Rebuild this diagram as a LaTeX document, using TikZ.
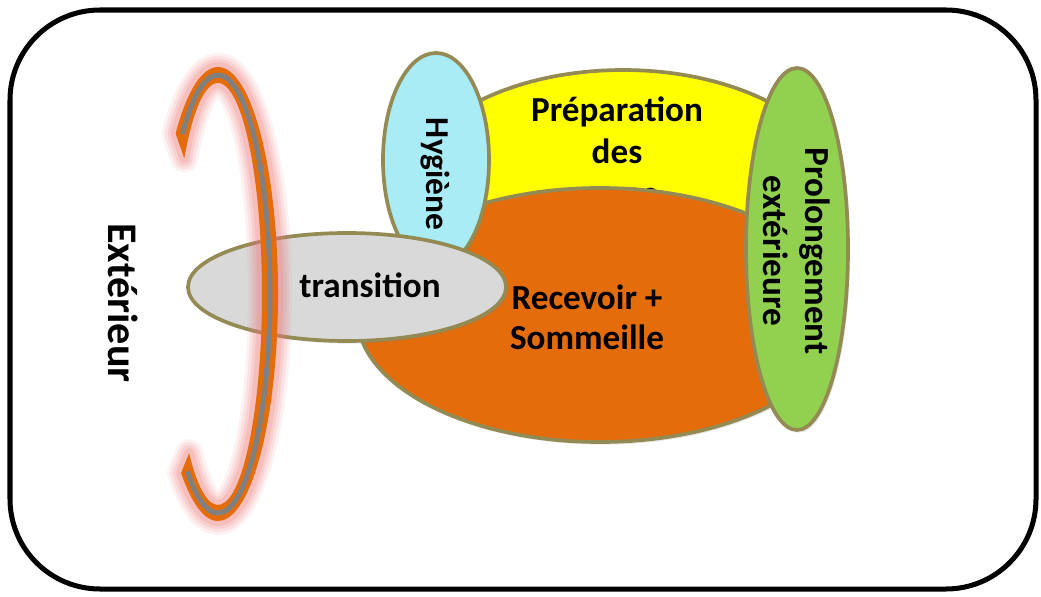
\documentclass[tikz,border=0pt]{standalone}
\usepackage{fontspec}
\setmainfont{Carlito}
\usetikzlibrary{shadows}
\definecolor{edgeol}{HTML}{948A54}
\definecolor{yelf}{HTML}{FFFF00}
\definecolor{cyanf}{HTML}{A9ECF6}
\definecolor{orangef}{HTML}{E46C0A}
\definecolor{greyf}{HTML}{D9D9D9}
\definecolor{greenf}{HTML}{92D050}
\definecolor{stripe}{HTML}{808080}
\definecolor{glowc}{HTML}{F07878}
\newcommand\crescentpath{(184.3,437.6) -- (175.6,462.5) arc[start angle=135, end angle=-128, x radius=60, y radius=227] -- (189.1,142.8) arc[start angle=-131, end angle=140, x radius=44, y radius=211] -- cycle}
\begin{document}
\begin{tikzpicture}[x=0.02cm,y=0.02cm,
  blob/.style={draw=edgeol, line width=2.1pt, drop shadow={shadow xshift=1.2pt, shadow yshift=-1.5pt, opacity=0.18}},
  lbl/.style={font=\fontsize{20}{22.2}\selectfont\bfseries, align=center, text=black, inner sep=0pt}]
\path[use as bounding box] (0,0) rectangle (1041,596);
\fill[white] (0,0) rectangle (1041,596);
\draw[line width=2.85pt, rounded corners=1.8cm] (10,7) rectangle (1036,586);
% yellow
\draw[blob, fill=yelf] (623,396) ellipse [x radius=222, y radius=130];
\node[lbl, font=\fontsize{20}{24}\selectfont\bfseries] (prep) at (617,442) {Préparation\\des\\repas};
% orange
\draw[blob, fill=orangef] (600,281) ellipse [x radius=243, y radius=127];
\node[lbl, font=\fontsize{20}{22.7}\selectfont\bfseries] (recv) at (587,279) {Recevoir +\\Sommeille};
% cyan
\draw[blob, fill=cyanf] (436,436) ellipse [x radius=53, y radius=107];
\node[lbl, font=\fontsize{19}{22}\selectfont\bfseries, rotate=-90] (hyg) at (435,422) {Hygiène};
% grey
\draw[blob, fill=greyf] (347,309) ellipse [x radius=159, y radius=54];
\node[lbl, anchor=base] (trans) at (370,299) {transition};
% green
\draw[blob, fill=greenf] (797,347) ellipse [x radius=51, y radius=181];
\node[lbl, font=\fontsize{20}{24}\selectfont\bfseries, rotate=-90] (prol) at (797,345) {Prolongement\\extérieure};
% arc with glow
\foreach \w/\o in {28/0.10, 22/0.13, 16/0.16, 10/0.2}
  \draw[glowc, line width=\w*0.569pt, opacity=\o, line join=round] \crescentpath;
\fill[orangef] \crescentpath;
\draw[stripe, line width=2.85pt] (182.5,462.1) arc[start angle=133, end angle=-126, x radius=52, y radius=219];
\node[lbl, font=\fontsize{24}{28}\selectfont\bfseries, rotate=-90] (ext) at (123,293) {Extérieur};
\end{tikzpicture}
\end{document}
